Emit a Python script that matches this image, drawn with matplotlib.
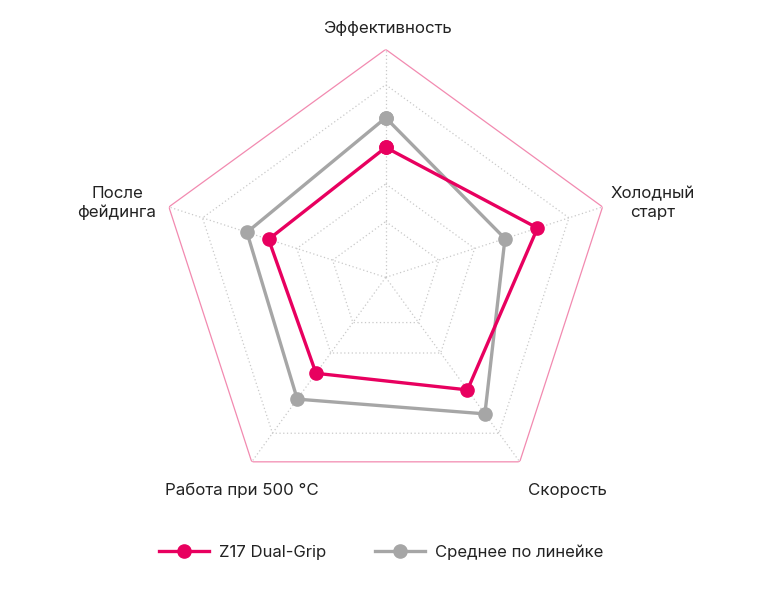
import matplotlib.pyplot as plt
import numpy as np

plt.rcParams["font.family"] = ["Inter", "DejaVu Sans"]

# axes, clockwise from the top
categories = ["Эффективность", "Холодный\nстарт", "Скорость",
              "Работа при 500 °C", "После\nфейдинга"]
z17_values = [57, 70, 61, 52, 54]
avg_values = [70, 55, 74, 66, 64]
series_names = ["Z17 Dual-Grip", "Среднее по линейке"]
ring_levels = [24.5, 41, 84.5]
r_max = 100

PINK = "#E8005F"
GREY = "#A6A6A6"
RING = "#C9C9C9"
OUTER = "#F28AB0"

n = len(categories)
angles = np.arange(n) * 2 * np.pi / n
closed = np.append(angles, angles[0])

fig = plt.figure(figsize=(7.8, 6.0), dpi=100)
fig.patch.set_facecolor("white")
ax = fig.add_axes([0.2022, 0.1577, 0.5846, 0.76], projection="polar")
ax.set_theta_offset(np.pi / 2)
ax.set_theta_direction(-1)
ax.set_ylim(0, r_max)
ax.axis("off")

# pentagon grid
for level in ring_levels:
    ax.plot(closed, [level] * (n + 1), color=RING, lw=0.9, ls=(0, (1, 2)), zorder=1)
ax.plot(closed, [r_max] * (n + 1), color=OUTER, lw=0.9, zorder=1)
for a in angles:
    ax.plot([a, a], [0, r_max], color=RING, lw=0.9, ls=(0, (1, 2)), zorder=1)

ax.plot(closed, avg_values + avg_values[:1], color=GREY, lw=2.4,
        marker="o", ms=9.5, zorder=3, label=series_names[1])
ax.plot(closed, z17_values + z17_values[:1], color=PINK, lw=2.4,
        marker="o", ms=9.5, zorder=4, label=series_names[0])

# category labels
label_pos = [(387, 28), (653, 203), (567, 490), (242, 490), (117, 203)]
for text, (px, py) in zip(categories, label_pos):
    fig.text(px / 780, 1 - py / 600, text, ha="center", va="center",
             fontsize=12.2, color="#222222", linespacing=1.3)

handles, labels = ax.get_legend_handles_labels()
fig.legend(handles[::-1], labels[::-1], loc="center", ncol=2,
           bbox_to_anchor=(0.489, 1 - 552 / 600), frameon=False,
           fontsize=12.0, handlelength=3.0, columnspacing=2.9,
           handletextpad=0.6, labelcolor="#222222")

fig.savefig("out.png", dpi=100, facecolor="white")
